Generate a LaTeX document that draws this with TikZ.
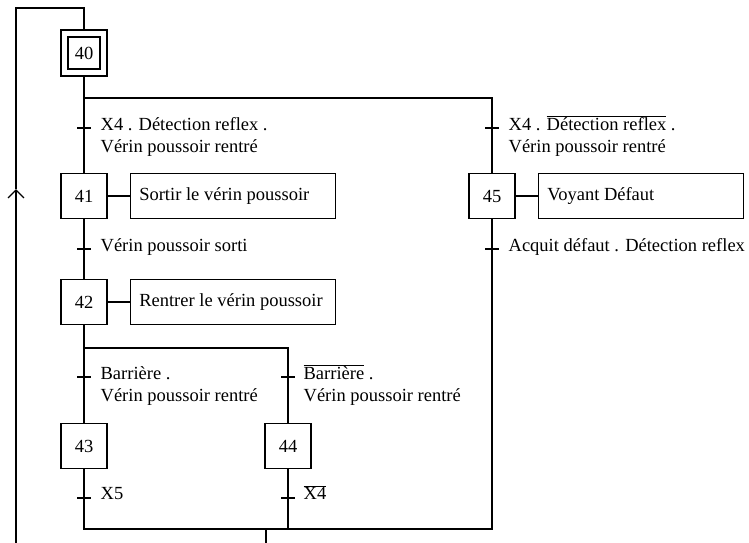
\documentclass[tikz,border=0pt]{standalone}
\usepackage{fontspec}
\setmainfont{Liberation Serif}
\usetikzlibrary{arrows.meta,positioning,calc}
\newcommand{\inv}[1]{\smash{$\overline{\mbox{#1}}$}\vphantom{#1}}

\begin{document}
\begin{tikzpicture}[x=1pt,y=-1pt,line width=1.3pt,
  font=\fontsize{18.5}{22}\selectfont,
  stepbox/.style={draw,minimum width=46pt,minimum height=45pt,inner sep=0pt},
  actbox/.style={draw,minimum height=45pt,text width=187pt,inner xsep=9pt,inner ysep=0pt,align=flush left},
  cond/.style={anchor=north west,inner sep=0pt,align=left}]
  \useasboundingbox (0,0) rectangle (749,543);

  % steps
  \node[stepbox,minimum height=46pt] (s40) at (84,53) {};
  \node[draw,minimum size=32pt,inner sep=0pt] (s40i) at (s40) {40};
  \node[stepbox] (s41) at (84,196) {41};
  \node[stepbox] (s42) at (84,302) {42};
  \node[stepbox] (s43) at (84,446) {43};
  \node[stepbox] (s44) at (288,446) {44};
  \node[stepbox] (s45) at (492,196) {45};

  % actions
  \node[actbox,right=22pt of s41] (a41) {Sortir le vérin poussoir};
  \node[actbox,right=22pt of s42] (a42) {Rentrer le vérin poussoir};
  \node[actbox,right=22pt of s45] (a45) {Voyant Défaut};
  \draw (s41) -- (a41);
  \draw (s42) -- (a42);
  \draw (s45) -- (a45);

  % transitions
  \coordinate (t1) at (84,128);
  \coordinate (t2) at (84,249);
  \coordinate (t3) at (84,377);
  \coordinate (t4) at (288,377);
  \coordinate (t5) at (84,498);
  \coordinate (t6) at (288,498);
  \coordinate (t7) at (492,128);
  \coordinate (t8) at (492,249);
  \foreach \t in {t1,t2,t3,t4,t5,t6,t7,t8}
    \draw ($(\t)+(-7,0)$) -- ($(\t)+(7,0)$);

  \node[cond] (c1) at ($(t1)+(16,-11)$) {X4 . Détection reflex .\\Vérin poussoir rentré};
  \node[cond] (c2) at ($(t2)+(16,-11)$) {Vérin poussoir sorti};
  \node[cond] (c3) at ($(t3)+(16,-11)$) {Barrière .\\Vérin poussoir rentré};
  \node[cond] (c4) at ($(t4)+(15,-11)$) {\inv{Barrière} .\\Vérin poussoir rentré};
  \node[cond] (c5) at ($(t5)+(16,-11)$) {X5};
  \node[cond] (c6) at ($(t6)+(15,-11)$) {\inv{X4}};
  \node[cond] (c7) at ($(t7)+(16,-11)$) {X4 . \inv{Détection reflex} .\\Vérin poussoir rentré};
  \node[cond] (c8) at ($(t8)+(16,-11)$) {Acquit défaut . Détection reflex};

  % links
  \coordinate (div) at (84,98);
  \coordinate (and1) at (84,348);
  \coordinate (convL) at (84,529);
  \coordinate (convR) at (492,529);
  \coordinate (back) at (266,543);
  \coordinate (ret) at (16,543);
  \coordinate (up) at (16,189);
  \coordinate (top) at (84,8);

  \draw (s40.south) -- (s41.north);
  \draw (div) -| (s45.north);
  \draw (s41.south) -- (s42.north);
  \draw (s42.south) -- (s43.north);
  \draw (and1) -| (s44.north);
  \draw (s43.south) -- (convL) -- (convR) -- (s45.south);
  \draw (s44.south) -- (s44.south |- convL);
  \draw (back |- convL) -- (back);
  \draw[-{Straight Barb[length=8pt,width=16pt]}] (ret) -- (up);
  \draw (up) |- (top) -- (s40.north);
\end{tikzpicture}
\end{document}
